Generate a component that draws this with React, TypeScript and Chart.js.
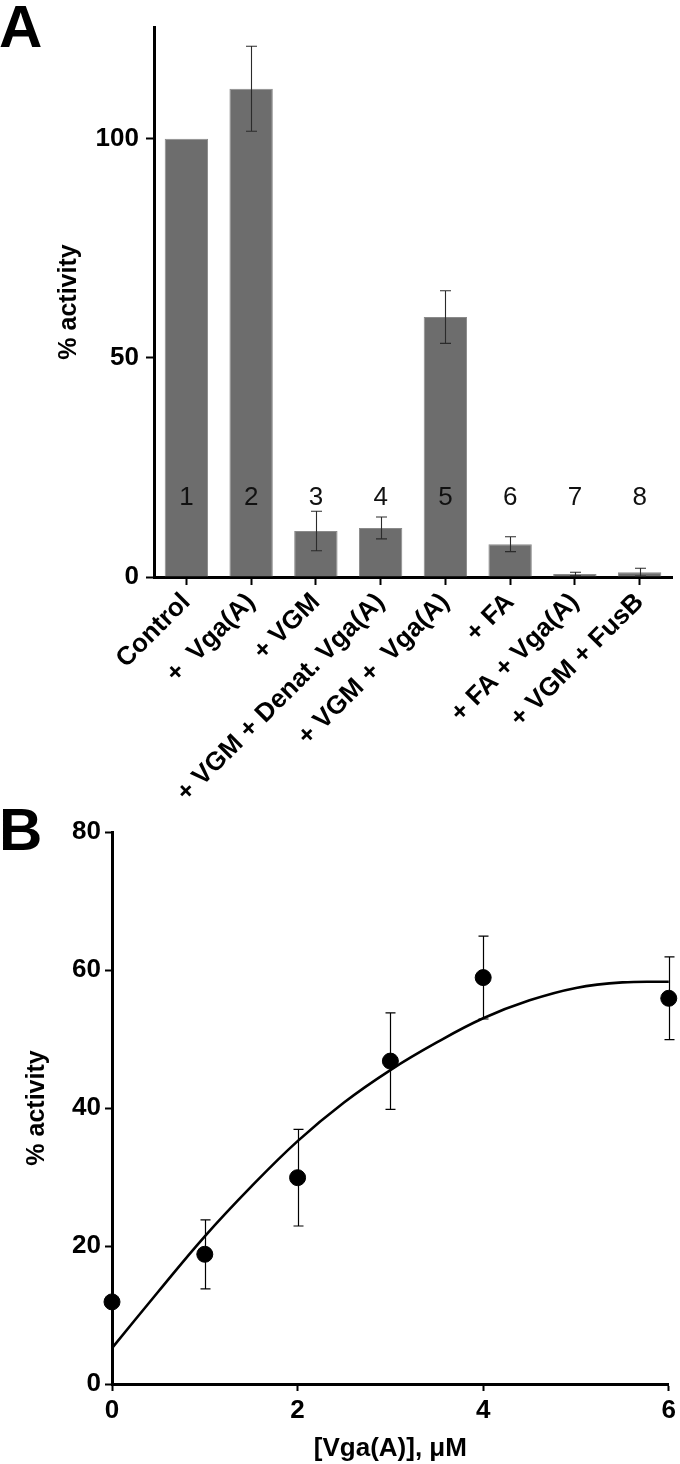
import React, { useEffect, useRef } from 'react';
import { Chart, registerables } from 'chart.js';

Chart.register(...registerables);

const FONT = "'Liberation Sans', Arial, Helvetica, sans-serif";

// ---------- Panel A data ----------
const categoriesA = [
  'Control',
  '+  Vga(A)',
  '+ VGM',
  '+ VGM + Denat. Vga(A)',
  '+ VGM +  Vga(A)',
  '+ FA',
  '+ FA + Vga(A)',
  '+ VGM + FusB',
];
const activityA = [100, 111.4, 10.5, 11.2, 59.3, 7.5, 0.7, 1.1];
const activityErrA = [0, 9.7, 4.5, 2.5, 6.0, 1.7, 0.4, 0.9];
const laneNumbers = ['1', '2', '3', '4', '5', '6', '7', '8'];
const laneNumberLevel = 18;
const yTicksA = [0, 50, 100];
const yMaxA = 125.5;

// ---------- Panel B data ----------
const doseX = [0, 1, 2, 3, 4, 6];
const doseY = [11.9, 18.8, 29.9, 46.8, 58.9, 55.9];
const doseErr = [0, 5, 7, 7, 6, 6];
const fitX = [0, 0.5, 1, 1.5, 2, 2.5, 3, 3.5, 4, 4.5, 5, 5.5, 6];
const fitY = [5.2, 13.4, 21.4, 28.6, 35.2, 40.8, 45.5, 49.5, 53.0, 55.6, 57.4, 58.2, 58.3];
const xTicksB = [0, 2, 4, 6];
const yTicksB = [0, 20, 40, 60, 80];

const axisGrid = (len: number) => ({
  display: true,
  drawOnChartArea: false,
  drawTicks: true,
  tickLength: len,
  tickWidth: 2,
  tickColor: '#000',
  offset: false,
});
const axisBorder = { display: true, width: 3, color: '#000' };

function letterPlugin(letter: string, baseline: number, size: number) {
  return {
    id: 'panelLetter' + letter,
    afterDraw(chart: any) {
      const ctx = chart.ctx;
      ctx.save();
      ctx.fillStyle = '#000';
      ctx.font = `bold ${size}px ${FONT}`;
      ctx.textAlign = 'left';
      ctx.textBaseline = 'alphabetic';
      ctx.fillText(letter, -1, baseline);
      ctx.restore();
    },
  };
}

function PanelA() {
  const ref = useRef<HTMLCanvasElement>(null);
  useEffect(() => {
    if (!ref.current) return;
    const errPlugin = {
      id: 'errA',
      afterDatasetsDraw(chart: any) {
        const { ctx, scales } = chart;
        const x = scales.x;
        const y = scales.y;
        ctx.save();
        ctx.strokeStyle = '#2b2b2b';
        ctx.lineWidth = 1.1;
        activityA.forEach((v, i) => {
          const e = activityErrA[i];
          if (!e) return;
          const px = Math.round(x.getPixelForValue(i)) + 0.5;
          const top = y.getPixelForValue(v + e);
          const bot = y.getPixelForValue(v - e);
          ctx.beginPath();
          ctx.moveTo(px, top);
          ctx.lineTo(px, bot);
          ctx.moveTo(px - 5.5, top);
          ctx.lineTo(px + 5.5, top);
          ctx.moveTo(px - 5.5, bot);
          ctx.lineTo(px + 5.5, bot);
          ctx.stroke();
        });
        ctx.fillStyle = '#111';
        ctx.font = `26px ${FONT}`;
        ctx.textAlign = 'center';
        ctx.textBaseline = 'middle';
        laneNumbers.forEach((t, i) => {
          ctx.fillText(t, x.getPixelForValue(i), y.getPixelForValue(laneNumberLevel));
        });
        ctx.restore();
      },
    };
    const chart = new Chart(ref.current, {
      type: 'bar',
      data: {
        labels: categoriesA,
        datasets: [
          {
            data: activityA,
            backgroundColor: '#6d6d6d',
            borderColor: '#8a8a8a',
            borderWidth: 1,
            barPercentage: 0.67,
            categoryPercentage: 1,
          },
        ],
      },
      options: {
        responsive: false,
        animation: false,
        devicePixelRatio: 1,
        layout: { padding: { top: 27, right: 8, left: 0, bottom: 0 } },
        plugins: { legend: { display: false }, tooltip: { enabled: false } },
        scales: {
          x: {
            z: 1,
            grid: axisGrid(8),
            border: axisBorder,
            ticks: {
              autoSkip: false,
              minRotation: 45,
              maxRotation: 45,
              color: '#000',
              padding: 2,
              font: { family: FONT, size: 26, weight: 'bold' },
            },
            afterFit: (s: any) => {
              s.height = 223;
            },
          },
          y: {
            min: 0,
            max: yMaxA,
            grid: axisGrid(8),
            border: axisBorder,
            afterBuildTicks: (s: any) => {
              s.ticks = yTicksA.map((v) => ({ value: v }));
            },
            ticks: {
              color: '#000',
              padding: 7,
              font: { family: FONT, size: 26, weight: 'bold' },
            },
            title: {
              display: true,
              text: '% activity',
              color: '#000',
              font: { family: FONT, size: 25, weight: 'bold' },
              padding: { top: 54, bottom: 0 },
            },
            afterFit: (s: any) => {
              s.width = 154;
            },
          },
        },
      } as any,
      plugins: [errPlugin, letterPlugin('A', 47, 60)],
    });
    return () => chart.destroy();
  }, []);
  return <canvas ref={ref} width={680} height={800} style={{ display: 'block', width: 680, height: 800 }} />;
}

function PanelB() {
  const ref = useRef<HTMLCanvasElement>(null);
  useEffect(() => {
    if (!ref.current) return;
    const errPlugin = {
      id: 'errB',
      beforeDatasetsDraw(chart: any) {
        const { ctx, scales } = chart;
        const x = scales.x;
        const y = scales.y;
        ctx.save();
        ctx.strokeStyle = '#000';
        ctx.lineWidth = 1.2;
        doseX.forEach((dx, i) => {
          const e = doseErr[i];
          if (!e) return;
          const v = doseY[i];
          const px = Math.round(x.getPixelForValue(dx)) + 0.5;
          const top = y.getPixelForValue(v + e);
          const bot = y.getPixelForValue(v - e);
          ctx.beginPath();
          ctx.moveTo(px, top);
          ctx.lineTo(px, bot);
          ctx.moveTo(px - 5, top);
          ctx.lineTo(px + 5, top);
          ctx.moveTo(px - 5, bot);
          ctx.lineTo(px + 5, bot);
          ctx.stroke();
        });
        ctx.restore();
      },
    };
    const chart = new Chart(ref.current, {
      type: 'scatter',
      data: {
        datasets: [
          {
            type: 'line',
            data: fitX.map((x, i) => ({ x, y: fitY[i] })),
            borderColor: '#000',
            borderWidth: 2.6,
            pointRadius: 0,
            tension: 0.4,
            fill: false,
            clip: false,
            order: 2,
          },
          {
            type: 'scatter',
            data: doseX.map((x, i) => ({ x, y: doseY[i] })),
            backgroundColor: '#000',
            borderColor: '#000',
            pointRadius: 8,
            clip: false,
            order: 1,
          },
        ],
      } as any,
      options: {
        responsive: false,
        animation: false,
        devicePixelRatio: 1,
        layout: { padding: { top: 32, right: 9, left: 0, bottom: 0 } },
        plugins: { legend: { display: false }, tooltip: { enabled: false } },
        scales: {
          x: {
            type: 'linear',
            min: 0,
            max: 6,
            grid: axisGrid(7),
            border: axisBorder,
            afterBuildTicks: (s: any) => {
              s.ticks = xTicksB.map((v) => ({ value: v }));
            },
            ticks: {
              color: '#000',
              padding: 4,
              font: { family: FONT, size: 26, weight: 'bold' },
            },
            title: {
              display: true,
              text: '[Vga(A)], μM',
              color: '#000',
              font: { family: FONT, size: 26, weight: 'bold' },
              padding: { top: 0, bottom: 0 },
            },
            afterFit: (s: any) => {
              s.height = 80;
            },
          },
          y: {
            min: 0,
            max: 80,
            grid: axisGrid(7),
            border: axisBorder,
            afterBuildTicks: (s: any) => {
              s.ticks = yTicksB.map((v) => ({ value: v }));
            },
            ticks: {
              color: '#000',
              padding: 4,
              font: { family: FONT, size: 26, weight: 'bold' },
            },
            title: {
              display: true,
              text: '% activity',
              color: '#000',
              font: { family: FONT, size: 25, weight: 'bold' },
              padding: { top: 22, bottom: 0 },
            },
            afterFit: (s: any) => {
              s.width = 112;
            },
          },
        },
      } as any,
      plugins: [errPlugin, letterPlugin('B', 50, 60)],
    });
    return () => chart.destroy();
  }, []);
  return <canvas ref={ref} width={680} height={664} style={{ display: 'block', width: 680, height: 664 }} />;
}

export default function App() {
  return (
    <div style={{ position: 'absolute', left: 0, top: 0, width: 680, height: 1464, background: '#fff' }}>
      <PanelA />
      <PanelB />
    </div>
  );
}
